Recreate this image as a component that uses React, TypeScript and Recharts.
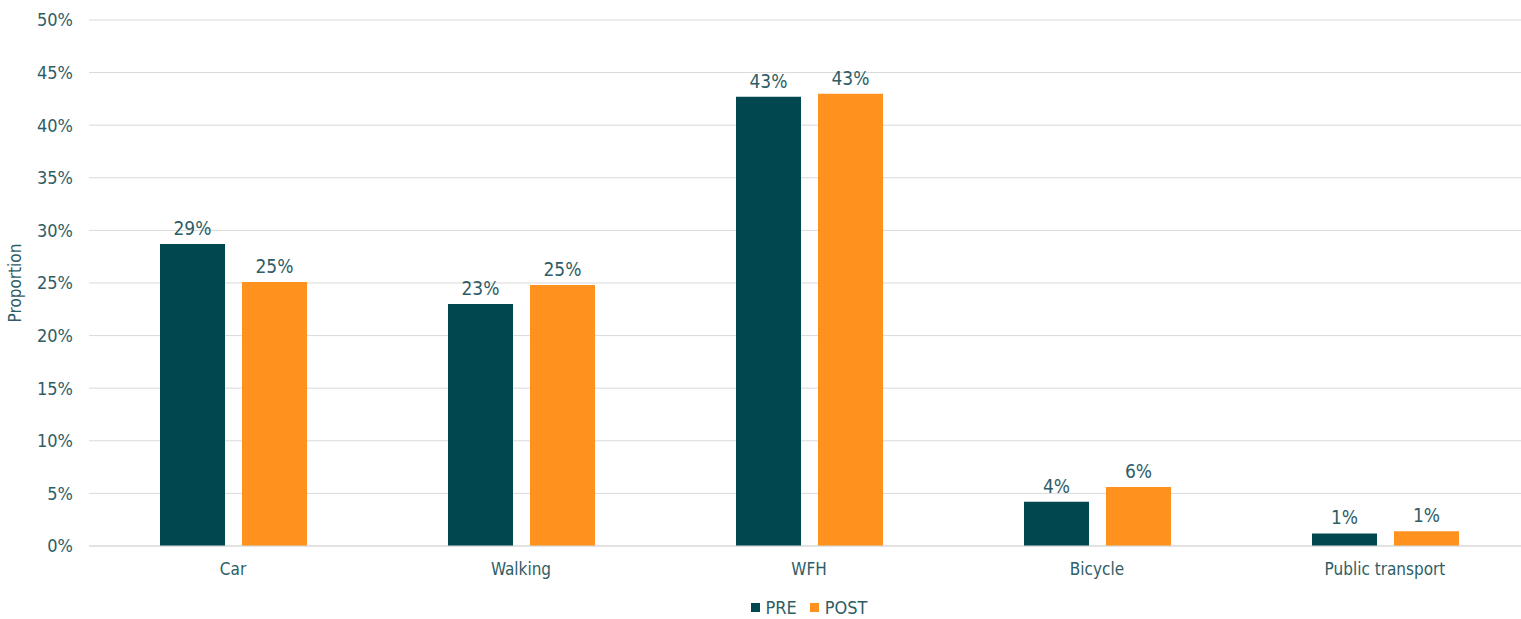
import React from "react";
import {
  BarChart,
  Bar,
  XAxis,
  YAxis,
  CartesianGrid,
  Legend,
  LabelList,
} from "recharts";

const MODES = ["Car", "Walking", "WFH", "Bicycle", "Public transport"];
const PRE = [28.7, 23.0, 42.7, 4.2, 1.2];
const POST = [25.1, 24.8, 43.0, 5.6, 1.4];
const Y_TICKS = [0, 5, 10, 15, 20, 25, 30, 35, 40, 45, 50];

const DARK = "#01474f";
const ORANGE = "#ff921e";
const TEXT = "#2f5d66";
const GRID = "#d9d9d9";
const FONT = "'DejaVu Sans Condensed', 'DejaVu Sans', sans-serif";

const data = MODES.map((mode, i) => ({ mode, pre: PRE[i], post: POST[i] }));

const pct = (v: unknown) => `${Math.round(Number(v))}%`;

function LegendBox() {
  const items = [
    { label: "PRE", color: DARK },
    { label: "POST", color: ORANGE },
  ];
  return (
    <div
      style={{
        display: "flex",
        justifyContent: "center",
        alignItems: "center",
        gap: 13,
        paddingTop: 11,
        fontFamily: FONT,
        fontSize: 18,
        color: TEXT,
      }}
    >
      {items.map((it) => (
        <div key={it.label} style={{ display: "flex", alignItems: "center", gap: 6 }}>
          <span style={{ width: 9, height: 9, background: it.color, display: "inline-block" }} />
          <span>{it.label}</span>
        </div>
      ))}
    </div>
  );
}

export default function App() {
  return (
    <div
      style={{
        position: "absolute",
        left: 0,
        top: 0,
        width: 1521,
        height: 619,
        overflow: "hidden",
        background: "#fff",
      }}
    >
      <BarChart
        width={1535}
        height={619}
        data={data}
        margin={{ top: 20, right: 6, left: 0, bottom: 0 }}
        barSize={65}
        barGap={17}
      >
        <CartesianGrid vertical={false} stroke={GRID} />
        <XAxis
          dataKey="mode"
          height={40}
          tickLine={false}
          axisLine={{ stroke: GRID }}
          tickMargin={11}
          tick={{ fill: TEXT, fontSize: 17, fontFamily: FONT }}
        />
        <YAxis
          width={89}
          domain={[0, 50]}
          ticks={Y_TICKS}
          tickFormatter={(v) => `${v}%`}
          axisLine={false}
          tickLine={false}
          tickMargin={10}
          tick={{ fill: TEXT, fontSize: 18, fontFamily: FONT }}
          label={{
            value: "Proportion",
            angle: -90,
            position: "insideLeft",
            offset: 15,
            style: { fill: TEXT, fontSize: 17, fontFamily: FONT, textAnchor: "middle" },
          }}
        />
        <Legend
          verticalAlign="bottom"
          content={<LegendBox />}
          wrapperStyle={{ left: 89, width: 1440, height: 33, bottom: 0 }}
        />
        <Bar dataKey="pre" name="PRE" fill={DARK} isAnimationActive={false}>
          <LabelList
            dataKey="pre"
            position="top"
            offset={9}
            formatter={pct}
            style={{ fill: TEXT, fontSize: 19, fontFamily: FONT }}
          />
        </Bar>
        <Bar dataKey="post" name="POST" fill={ORANGE} isAnimationActive={false}>
          <LabelList
            dataKey="post"
            position="top"
            offset={9}
            formatter={pct}
            style={{ fill: TEXT, fontSize: 19, fontFamily: FONT }}
          />
        </Bar>
      </BarChart>
    </div>
  );
}
